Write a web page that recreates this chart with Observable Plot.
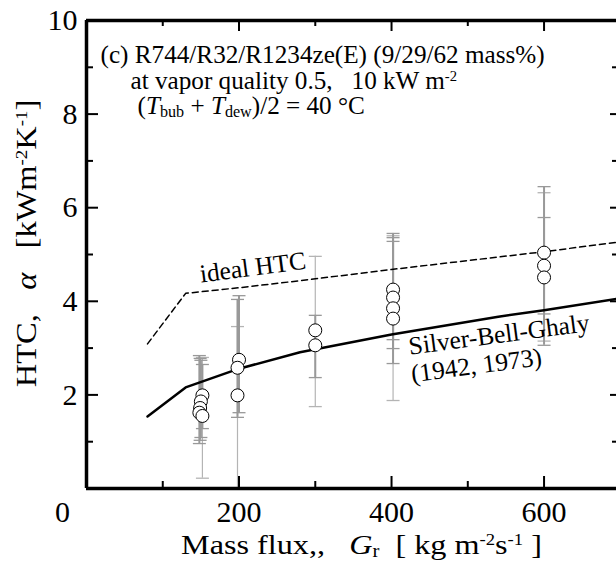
<!DOCTYPE html>
<html><head><meta charset="utf-8">
<script src="https://cdn.jsdelivr.net/npm/d3@7"></script>
<script src="https://cdn.jsdelivr.net/npm/@observablehq/plot@0.6"></script>
<style>body{margin:0;background:#fff} svg text{white-space:pre}</style>
</head><body><div id="chart"></div>
<script>
// measured points: mass flux G [kg m-2 s-1], HTC [kW m-2 K-1] with error bars
const massFlux = [152, 150, 149, 148, 152, 200, 198, 198, 300, 300, 402, 402, 402, 402, 600, 600, 600];
const htc      = [1.99, 1.86, 1.72, 1.62, 1.55, 2.75, 2.58, 1.99, 3.38, 3.06, 4.25, 4.08, 3.85, 3.63, 5.04, 4.76, 4.51];
const htcLow   = [1.28, 1.09, 1.03, 0.96, 0.22, 1.62, 1.52, 0.00, 1.75, 2.37, 2.99, 3.18, 2.67, 1.88, 3.06, 3.73, 3.15];
const htcHigh  = [2.65, 2.74, 2.78, 2.84, 2.80, 4.12, 4.04, 3.46, 4.96, 3.70, 5.45, 5.36, 5.28, 5.40, 6.45, 5.79, 6.32];
const barTone  = ["dark","dark","dark","dark","light","dark","dark","light","light","dark","dark","dark","dark","light","dark","dark","light"];

// correlation curves
const silverG   = [80, 130, 200, 280, 400, 540, 600, 695];
const silverHTC = [1.54, 2.16, 2.56, 2.91, 3.29, 3.67, 3.81, 4.05];
const idealG    = [80, 130, 200, 280, 400, 600, 695];
const idealHTC  = [3.09, 4.17, 4.29, 4.44, 4.68, 5.06, 5.26];

// ticks
const xLabelTicks = [200, 400, 600];
const yLabelTicks = [2, 4, 6, 8, 10];
const xMajor = [200, 400, 600];
const xMinor = [100, 300, 500];
const yMajor = [2, 4, 6, 8];
const yMinor = [1, 3, 5, 7, 9];

// texts
const titleLines = ["KEY_T1", "KEY_T2", "KEY_T3"];
const SUP = 'baseline-shift="super" font-size="58%"';
const SUB = 'baseline-shift="-3" font-size="64%"';
const rich = {
  KEY_T1: '(c) R744/R32/R1234ze(E) (9/29/62 mass%)',
  KEY_T2: `at vapor quality 0.5,\u00a0\u00a0\u00a010 kW m<tspan ${SUP}>-2</tspan>`,
  KEY_T3: `(<tspan font-style="italic">T</tspan><tspan ${SUB}>bub</tspan> + <tspan font-style="italic">T</tspan><tspan ${SUB}>dew</tspan>)/2 = 40 °C`,
  KEY_YL: `HTC,\u00a0\u00a0 <tspan font-style="italic">α</tspan>\u00a0\u00a0 [kWm<tspan ${SUP}>-2</tspan>K<tspan ${SUP}>-1</tspan>]`,
  KEY_XL: `Mass flux,,\u00a0\u00a0 <tspan font-style="italic">G</tspan><tspan ${SUB}>r</tspan>\u00a0 [ kg m<tspan ${SUP}>-2</tspan>s<tspan ${SUP}>-1</tspan> ]`
};
// horizontal stretch of the source lettering relative to Liberation Serif
const stretch = {KEY_YL: 1.12, KEY_XL: 1.15};

const points = massFlux.map((g, i) => ({G: g, htc: htc[i], lo: htcLow[i], hi: htcHigh[i], tone: barTone[i]}));
const silver = silverG.map((g, i) => ({G: g, htc: silverHTC[i]}));
const ideal = idealG.map((g, i) => ({G: g, htc: idealHTC[i]}));

const capSymbol = {draw(ctx, size) { const r = Math.sqrt(size / Math.PI); ctx.moveTo(-r, 0); ctx.lineTo(r, 0); }};
const FONT = '"Liberation Serif", "Times New Roman", serif';
const W = 616, H = 569, ML = 86, MR = 0, MT = 20, MB = 81;
const iw = W - ML - MR, ih = H - MT - MB;

const light = points.filter(d => d.tone === "light");
const dark = points.filter(d => d.tone === "dark");
const barMarks = (data, stroke, sw) => [
  Plot.ruleX(data, {x: "G", y1: "lo", y2: "hi", stroke, strokeWidth: sw}),
  Plot.dot(data, {x: "G", y: "lo", symbol: capSymbol, r: 6.5, stroke, strokeWidth: 1.3, fill: "none"}),
  Plot.dot(data, {x: "G", y: "hi", symbol: capSymbol, r: 6.5, stroke, strokeWidth: 1.3, fill: "none"})
];

const chart = Plot.plot({
  width: W, height: H,
  marginLeft: ML, marginRight: MR, marginTop: MT, marginBottom: MB,
  style: {fontFamily: FONT, background: "white", color: "black"},
  x: {domain: [0, 695]},
  y: {domain: [0, 10]},
  marks: [
    ...barMarks(light, "#b4b4b4", 1.2),
    ...barMarks(dark, "#999999", 2),
    Plot.line(ideal, {x: "G", y: "htc", stroke: "black", strokeWidth: 1.5, strokeDasharray: "6,4"}),
    Plot.line(silver, {x: "G", y: "htc", stroke: "black", strokeWidth: 2.5}),
    Plot.dot(points, {x: "G", y: "htc", r: 6.5, fill: "white", stroke: "black", strokeWidth: 1}),
    // inward ticks
    Plot.tickX(xMajor, {x: d => d, insetTop: ih - 12, stroke: "black", strokeWidth: 2}),
    Plot.tickX(xMinor, {x: d => d, insetTop: ih - 7, stroke: "black", strokeWidth: 2}),
    Plot.tickX(xMajor, {x: d => d, insetBottom: ih - 11, stroke: "black", strokeWidth: 2}),
    Plot.tickX(xMinor, {x: d => d, insetBottom: ih - 6, stroke: "black", strokeWidth: 2}),
    Plot.tickY(yMajor, {y: d => d, insetRight: iw - 12, stroke: "black", strokeWidth: 2}),
    Plot.tickY(yMinor, {y: d => d, insetRight: iw - 7, stroke: "black", strokeWidth: 2}),
    Plot.tickY(yMajor, {y: d => d, insetLeft: iw - 6, stroke: "black", strokeWidth: 2}),
    Plot.tickY(yMinor, {y: d => d, insetLeft: iw - 4, stroke: "black", strokeWidth: 2}),
    // spines
    Plot.ruleY([0, 10], {stroke: "black", strokeWidth: 3.5}),
    Plot.ruleX([0], {stroke: "black", strokeWidth: 3.5}),
    // tick labels
    Plot.axisX(xLabelTicks, {anchor: "bottom", tickSize: 0, tickPadding: 12, fontSize: 30, label: null}),
    Plot.axisX([0], {anchor: "bottom", tickSize: 0, tickPadding: 12, dx: -24, fontSize: 30, label: null}),
    Plot.axisY(yLabelTicks, {anchor: "left", tickSize: 0, tickPadding: 9, fontSize: 30, label: null}),
    // axis titles
    Plot.text(["KEY_XL"], {frameAnchor: "bottom", dx: 10, dy: 65, textAnchor: "middle", lineAnchor: "bottom", fontSize: 28}),
    Plot.text(["KEY_YL"], {frameAnchor: "left", rotate: -90, dx: -51, dy: -11, textAnchor: "middle", lineAnchor: "bottom", fontSize: 29}),
    // inset description
    Plot.text([titleLines[0]], {frameAnchor: "top-left", dx: 14, dy: 42, textAnchor: "start", lineAnchor: "bottom", fontSize: 25.2}),
    Plot.text([titleLines[1]], {frameAnchor: "top-left", dx: 44, dy: 68, textAnchor: "start", lineAnchor: "bottom", fontSize: 25.2}),
    Plot.text([titleLines[2]], {frameAnchor: "top-left", dx: 51, dy: 93, textAnchor: "start", lineAnchor: "bottom", fontSize: 25.2}),
    // curve annotations
    Plot.text(["ideal HTC"], {x: () => 150, y: () => 4.40, textAnchor: "start", lineAnchor: "bottom", rotate: -7.5, fontSize: 25.5}),
    Plot.text(["Silver-Bell-Ghaly"], {x: () => 424, y: () => 2.86, textAnchor: "start", lineAnchor: "bottom", rotate: -7.5, fontSize: 25.5}),
    Plot.text(["(1942, 1973)"], {x: () => 427, y: () => 2.27, textAnchor: "start", lineAnchor: "bottom", rotate: -7.5, fontSize: 25.5})
  ]
});

document.getElementById("chart").appendChild(chart);
chart.querySelectorAll("text").forEach(t => {
  const k = t.textContent.trim();
  if (rich[k] !== undefined) t.innerHTML = rich[k];
  if (stretch[k] !== undefined && stretch[k] !== 1) {
    const L = t.getComputedTextLength();
    t.setAttribute("textLength", (L * stretch[k]).toFixed(1));
    t.setAttribute("lengthAdjust", "spacingAndGlyphs");
  }
});
</script>
</body></html>
